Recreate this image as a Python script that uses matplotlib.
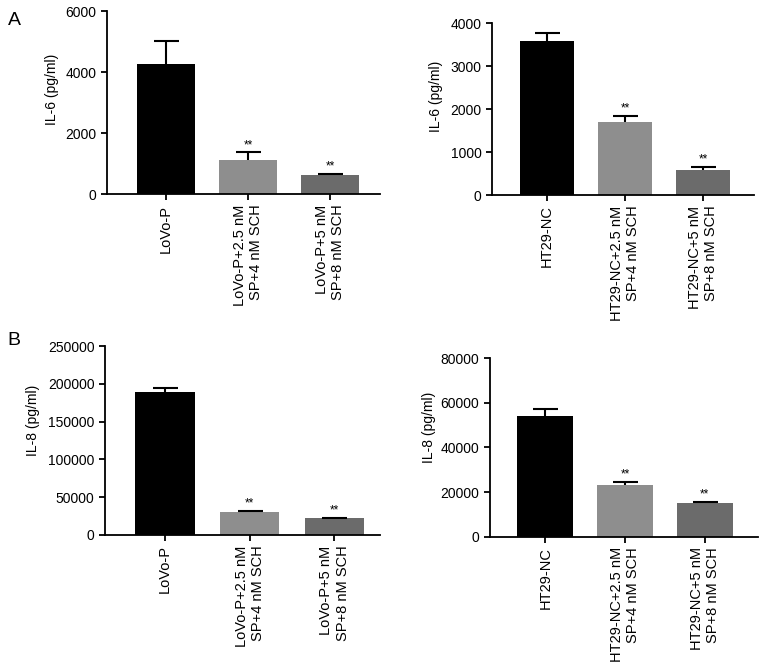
import numpy as np
import matplotlib
matplotlib.use('Agg')
import matplotlib.pyplot as plt

plt.rcParams['font.family'] = ['Liberation Sans', 'DejaVu Sans']

# data
lovo_labels = ['LoVo-P', 'LoVo-P+2.5 nM\nSP+4 nM SCH', 'LoVo-P+5 nM\nSP+8 nM SCH']
ht29_labels = ['HT29-NC', 'HT29-NC+2.5 nM\nSP+4 nM SCH', 'HT29-NC+5 nM\nSP+8 nM SCH']

il6_lovo = [4270, 1130, 630]
il6_lovo_err = [740, 240, 40]
il6_ht29 = [3600, 1695, 575]
il6_ht29_err = [175, 150, 85]

il8_lovo = [189000, 30500, 21800]
il8_lovo_err = [5000, 900, 700]
il8_ht29 = [54300, 23100, 15200]
il8_ht29_err = [2900, 1500, 500]

stars = ['', '**', '**']
bar_colors = ['#000000', '#8e8e8e', '#6b6b6b']

fig = plt.figure(figsize=(7.65, 6.67), dpi=100)


def panel(rect, labels, vals, errs, ylim, yticks, ylabel, xlim, label_xy):
    ax = fig.add_axes(rect)
    x = np.arange(len(vals))
    ax.bar(x, vals, width=0.70, color=bar_colors, zorder=2)
    eb = ax.errorbar(x, vals, yerr=[np.zeros(len(vals)), errs], fmt='none',
                     ecolor='black', elinewidth=1.5, capsize=9, capthick=1.5, zorder=3)
    # only the upper cap is drawn in the original
    eb[1][0].set_visible(False)
    for xi, v, e, s in zip(x, vals, errs, stars):
        if s:
            ax.annotate(s, (xi, v + e), xytext=(0, 1), textcoords='offset points',
                        ha='center', va='bottom', fontsize=8.5)
    ax.set_xlim(*xlim)
    ax.set_ylim(*ylim)
    ax.set_yticks(yticks)
    ax.set_yticklabels([str(t) for t in yticks], fontsize=10)
    ax.set_xticks(x)
    ax.set_xticklabels(labels, rotation=90, fontsize=10.5, ha='center', va='top',
                       multialignment='right')
    ax.set_ylabel(ylabel, fontsize=10)
    ax.yaxis.set_label_coords(*label_xy)
    for side in ['top', 'right']:
        ax.spines[side].set_visible(False)
    for side in ['left', 'bottom']:
        ax.spines[side].set_linewidth(1.3)
    ax.tick_params(width=1.3, length=4)
    return ax


panel([0.140, 0.7087, 0.357, 0.2748], lovo_labels, il6_lovo, il6_lovo_err,
      (0, 6000), [0, 2000, 4000, 6000], 'IL-6 (pg/ml)', (-0.72, 2.61), (-0.175, 0.574))
panel([0.643, 0.7076, 0.342, 0.2574], ht29_labels, il6_ht29, il6_ht29_err,
      (0, 4000), [0, 1000, 2000, 3000, 4000], 'IL-6 (pg/ml)', (-0.71, 2.65), (-0.186, 0.577))
panel([0.137, 0.198, 0.360, 0.283], lovo_labels, il8_lovo, il8_lovo_err,
      (0, 250000), [0, 50000, 100000, 150000, 200000, 250000], 'IL-8 (pg/ml)',
      (-0.71, 2.54), (-0.237, 0.608))
panel([0.640, 0.1954, 0.351, 0.2674], ht29_labels, il8_ht29, il8_ht29_err,
      (0, 80000), [0, 20000, 40000, 60000, 80000], 'IL-8 (pg/ml)', (-0.70, 2.67),
      (-0.199, 0.615))

fig.text(0.010, 0.970, 'A', fontsize=14, va='center')
fig.text(0.010, 0.490, 'B', fontsize=14, va='center')

fig.savefig('out.png', dpi=100)
